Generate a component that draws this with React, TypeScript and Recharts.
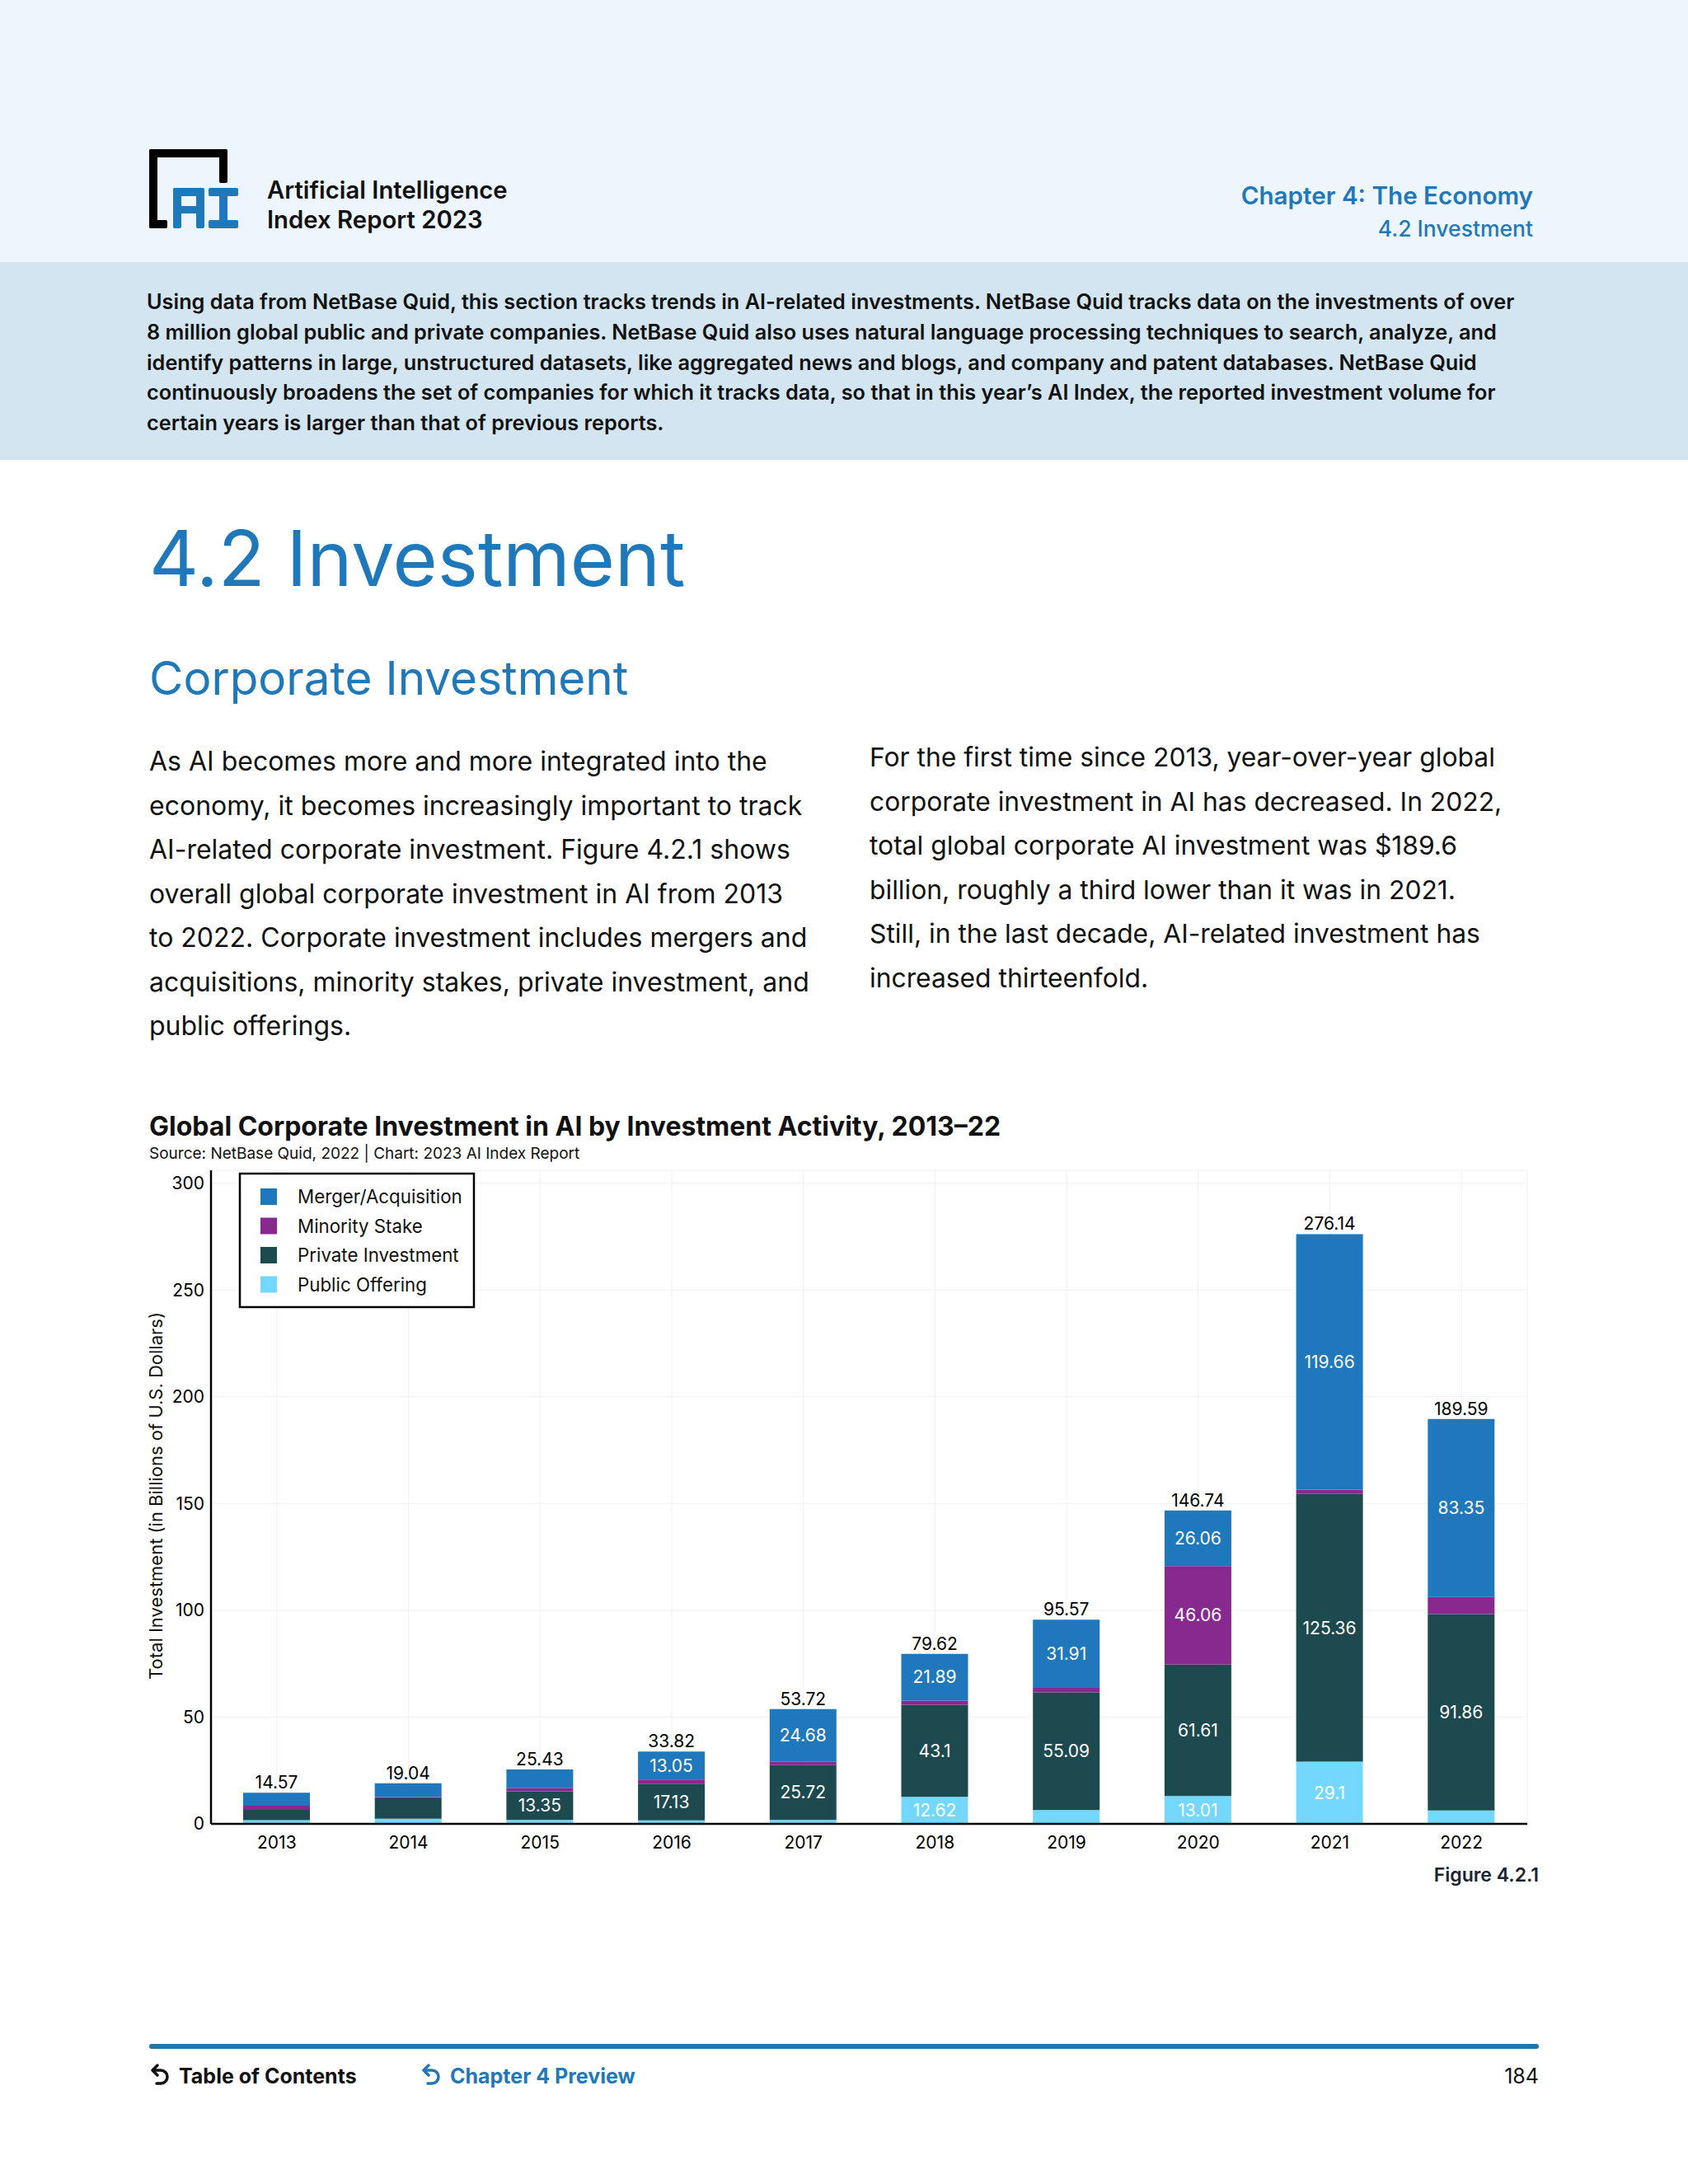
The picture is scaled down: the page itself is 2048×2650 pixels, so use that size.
import { BarChart, Bar, XAxis, YAxis, CartesianGrid, LabelList } from "recharts";

const years = ["2013", "2014", "2015", "2016", "2017", "2018", "2019", "2020", "2021", "2022"];
const mergerAcquisition = [6.07, 6.5, 8.7, 13.05, 24.68, 21.89, 31.91, 26.06, 119.66, 83.35];
const minorityStake = [1.9, 0.6, 1.5, 2.0, 1.5, 2.01, 2.07, 46.06, 2.02, 8.08];
const privateInvestment = [4.9, 9.5, 13.35, 17.13, 25.72, 43.1, 55.09, 61.61, 125.36, 91.86];
const publicOffering = [1.7, 2.44, 1.88, 1.64, 1.82, 12.62, 6.5, 13.01, 29.1, 6.3];
const totals = [14.57, 19.04, 25.43, 33.82, 53.72, 79.62, 95.57, 146.74, 276.14, 189.59];
const yTicks = [0, 50, 100, 150, 200, 250, 300];

const data = years.map((year, i) => ({
  year,
  merger: mergerAcquisition[i],
  minority: minorityStake[i],
  private: privateInvestment[i],
  public: publicOffering[i],
  total: totals[i],
}));

const COLORS = {
  merger: "#1f78bb",
  minority: "#88298f",
  private: "#1c4a4f",
  public: "#74d8fe",
};

const legendItems = [
  { name: "Merger/Acquisition", color: COLORS.merger },
  { name: "Minority Stake", color: COLORS.minority },
  { name: "Private Investment", color: COLORS.private },
  { name: "Public Offering", color: COLORS.public },
];

const intro = [
  "Using data from NetBase Quid, this section tracks trends in AI-related investments. NetBase Quid tracks data on the investments of over",
  "8 million global public and private companies. NetBase Quid also uses natural language processing techniques to search, analyze, and",
  "identify patterns in large, unstructured datasets, like aggregated news and blogs, and company and patent databases. NetBase Quid",
  "continuously broadens the set of companies for which it tracks data, so that in this year\u2019s AI Index, the reported investment volume for",
  "certain years is larger than that of previous reports.",
];

const leftCol = [
  "As AI becomes more and more integrated into the",
  "economy, it becomes increasingly important to track",
  "AI-related corporate investment. Figure 4.2.1 shows",
  "overall global corporate investment in AI from 2013",
  "to 2022. Corporate investment includes mergers and",
  "acquisitions, minority stakes, private investment, and",
  "public offerings.",
];

const rightCol = [
  "For the first time since 2013, year-over-year global",
  "corporate investment in AI has decreased. In 2022,",
  "total global corporate AI investment was $189.6",
  "billion, roughly a third lower than it was in 2021.",
  "Still, in the last decade, AI-related investment has",
  "increased thirteenfold.",
];

const FONT = "Inter, 'Noto Sans', sans-serif";
const BLUE = "#1f78b9";

const inside = (v: number) => (v > 10 ? v : "");

function BackArrow({ x, y, color }: { x: number; y: number; color: string }) {
  return (
    <g fill="none" stroke={color} strokeWidth={3.5} strokeLinecap="round" strokeLinejoin="round">
      <path d={`M${x + 3} ${y} L${x + 12} ${y} A8 8 0 0 1 ${x + 12} ${y + 16} L${x + 7} ${y + 16}`} />
      <path d={`M${x + 8} ${y - 6} L${x + 2} ${y} L${x + 8} ${y + 6}`} />
    </g>
  );
}

export default function App() {
  return (
    <div style={{ position: "absolute", left: 0, top: 0, width: 2048, height: 2650, background: "#fff", fontFamily: FONT }}>
      <svg width={2048} height={2650} style={{ position: "absolute", left: 0, top: 0 }} fontFamily={FONT}>
        <rect x={0} y={0} width={2048} height={318} fill="#eef6fd" />
        <rect x={0} y={318} width={2048} height={240} fill="#d3e5f1" />

        {/* logo */}
        <g fill="#000">
          <rect x={181} y={181} width={95} height={10} rx={2} />
          <rect x={181} y={181} width={10} height={96} rx={2} />
          <rect x={266} y={181} width={10} height={41} rx={2} />
          <rect x={181} y={267} width={22} height={10} rx={2} />
        </g>
        <g fill={BLUE}>
          <rect x={210} y={228} width={10} height={49} rx={2} />
          <rect x={238} y={228} width={10} height={49} rx={2} />
          <rect x={210} y={228} width={38} height={10} rx={3} />
          <rect x={210} y={250} width={38} height={9} />
          <rect x={253} y={228} width={36} height={10} rx={2} />
          <rect x={266} y={228} width={10} height={49} />
          <rect x={253} y={267} width={36} height={10} rx={2} />
        </g>
        <text x={324} y={241} fontSize={29.3} fontWeight={600} fill="#111">Artificial Intelligence</text>
        <text x={324} y={277} fontSize={29.3} fontWeight={600} fill="#111">Index Report 2023</text>
        <text x={1860} y={248} fontSize={29.6} fontWeight={600} fill={BLUE} textAnchor="end">Chapter 4: The Economy</text>
        <text x={1860} y={287} fontSize={26.5} fontWeight={500} fill={BLUE} textAnchor="end">4.2 Investment</text>

        {intro.map((line, i) => (
          <text key={i} x={178} y={375 + i * 36.8} fontSize={25.3} fontWeight={600} fill="#111">{line}</text>
        ))}

        <text x={181} y={711} fontSize={93} fontWeight={400} fill={BLUE}>4.2 Investment</text>
        <text x={181} y={843} fontSize={56.7} fontWeight={400} fill={BLUE}>Corporate Investment</text>

        {leftCol.map((line, i) => (
          <text key={i} x={181} y={935 + i * 53.5} fontSize={32} fill="#111">{line}</text>
        ))}
        {rightCol.map((line, i) => (
          <text key={i} x={1055} y={930 + i * 53.5} fontSize={31.8} fill="#111">{line}</text>
        ))}

        <text x={181} y={1378} fontSize={32} fontWeight={700} fill="#111">Global Corporate Investment in AI by Investment Activity, 2013–22</text>
        <text x={181} y={1406} fontSize={19} fill="#111">Source: NetBase Quid, 2022 | Chart: 2023 AI Index Report</text>
        <text transform="translate(197,1815) rotate(-90)" fontSize={22} fill="#111" textAnchor="middle">Total Investment (in Billions of U.S. Dollars)</text>

        <text x={1867} y={2283} fontSize={23} fontWeight={600} fill="#1a2433" textAnchor="end">Figure 4.2.1</text>

        <line x1={184} y1={2483} x2={1864} y2={2483} stroke="#1f78a9" strokeWidth={6} strokeLinecap="round" />
        <BackArrow x={183} y={2512} color="#111" />
        <text x={217} y={2528} fontSize={25} fontWeight={700} fill="#111">Table of Contents</text>
        <BackArrow x={512} y={2512} color={BLUE} />
        <text x={546} y={2528} fontSize={25} fontWeight={700} fill={BLUE}>Chapter 4 Preview</text>
        <text x={1867} y={2528} fontSize={25} fill="#111" textAnchor="end">184</text>
      </svg>

      <div style={{ position: "absolute", left: 156, top: 1400 }}>
        <BarChart width={1720} height={850} data={data} margin={{ top: 20, right: 23, left: 0, bottom: 0 }}>
          <CartesianGrid stroke="#f1f1f1" />
          <XAxis
            dataKey="year"
            interval={0}
            height={37}
            tickLine={false}
            tickSize={6}
            tickMargin={9}
            axisLine={{ stroke: "#000", strokeWidth: 2.5 }}
            tick={{ fontSize: 21, fill: "#000", fontFamily: FONT }}
          />
          <YAxis
            width={100}
            domain={[0, 306]}
            ticks={yTicks}
            tickLine={false}
            tickSize={6}
            tickMargin={2}
            axisLine={{ stroke: "#000", strokeWidth: 2.5 }}
            tick={{ fontSize: 21, fill: "#000", fontFamily: FONT }}
          />
          <Bar dataKey="public" stackId="a" fill={COLORS.public} barSize={81} isAnimationActive={false}>
            <LabelList dataKey="public" position="center" formatter={inside} fill="#fff" fontSize={21} fontFamily={FONT} />
          </Bar>
          <Bar dataKey="private" stackId="a" fill={COLORS.private} barSize={81} isAnimationActive={false}>
            <LabelList dataKey="private" position="center" formatter={inside} fill="#fff" fontSize={21} fontFamily={FONT} />
          </Bar>
          <Bar dataKey="minority" stackId="a" fill={COLORS.minority} barSize={81} isAnimationActive={false}>
            <LabelList dataKey="minority" position="center" formatter={inside} fill="#fff" fontSize={21} fontFamily={FONT} />
          </Bar>
          <Bar dataKey="merger" stackId="a" fill={COLORS.merger} barSize={81} isAnimationActive={false}>
            <LabelList dataKey="merger" position="center" formatter={inside} fill="#fff" fontSize={21} fontFamily={FONT} />
            <LabelList dataKey="total" position="top" offset={5} fill="#000" fontSize={21} fontFamily={FONT} />
          </Bar>
        </BarChart>
      </div>

      <svg width={290} height={166} style={{ position: "absolute", left: 289, top: 1422 }} fontFamily={FONT}>
        <rect x={2} y={2} width={284} height={162} fill="#fff" stroke="#000" strokeWidth={2.5} />
        {legendItems.map((it, i) => (
          <g key={it.name}>
            <rect x={27} y={20 + i * 35.5} width={20} height={20} fill={it.color} />
            <text x={72} y={38 + i * 35.5} fontSize={22.3} fill="#111">{it.name}</text>
          </g>
        ))}
      </svg>
    </div>
  );
}
